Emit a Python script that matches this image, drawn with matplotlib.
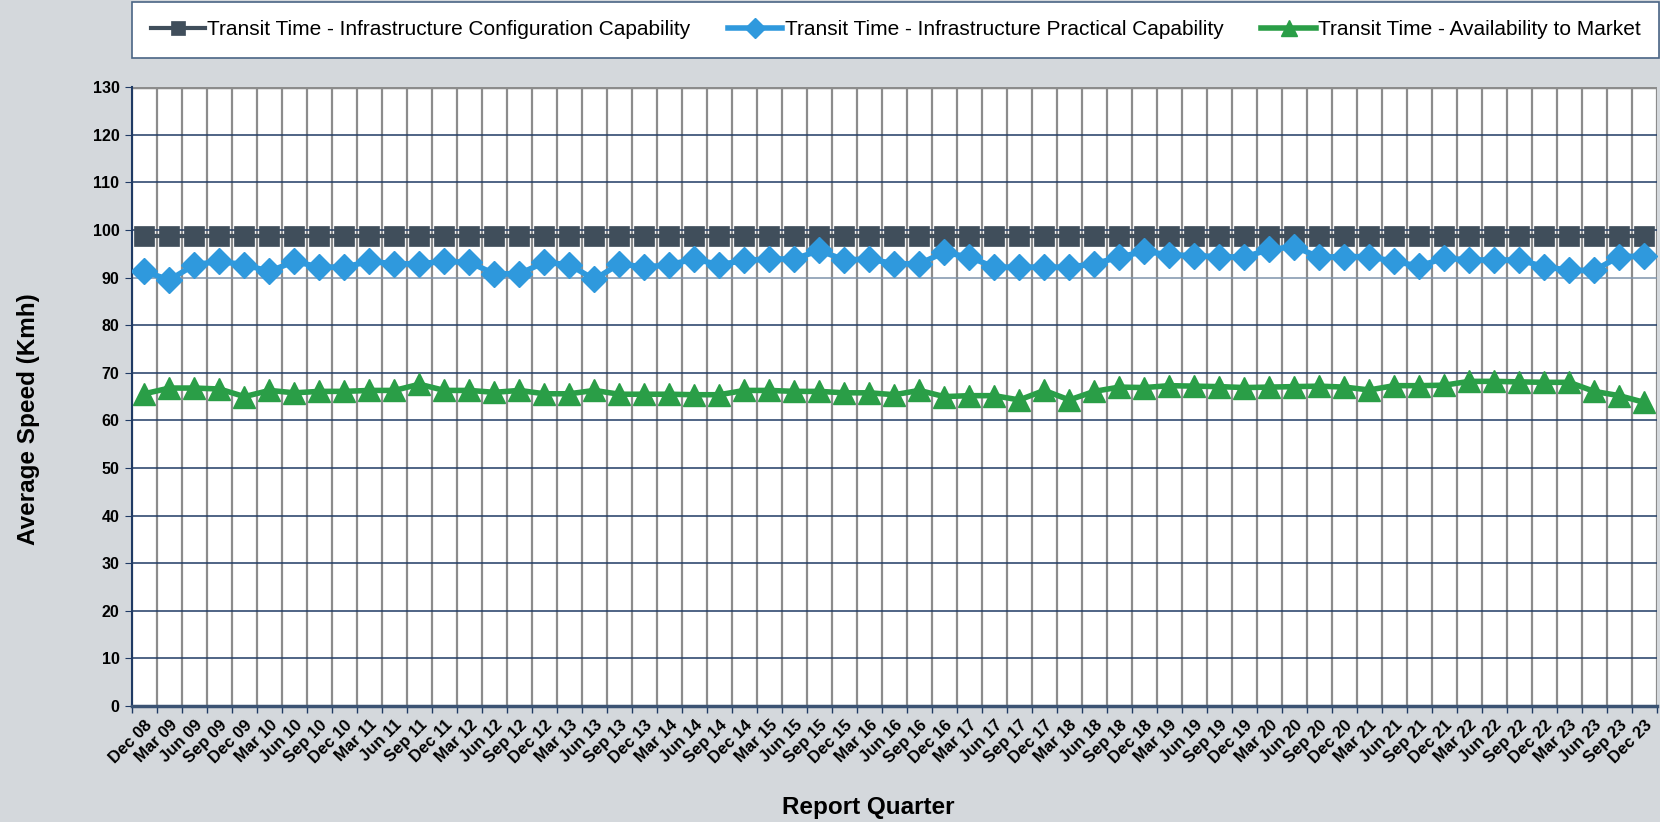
import numpy as np
import matplotlib.pyplot as plt
from matplotlib.ticker import MultipleLocator

plt.rcParams['font.family'] = ['Liberation Sans', 'DejaVu Sans']

# report quarters Dec 08 .. Dec 23
quarters = []
for yr in range(8, 24):
    for m in ["Mar", "Jun", "Sep", "Dec"]:
        quarters.append(f"{m} {yr:02d}")
quarters = quarters[3:]  # start at Dec 08

config_cap = [98.7] * 61

practical_cap = [
    91.3, 89.5, 92.7, 93.4, 92.7, 91.3, 93.4, 92.2, 92.2, 93.4,
    92.9, 92.9, 93.4, 93.2, 90.8, 90.8, 93.2, 92.7, 89.6, 92.9,
    92.2, 92.7, 93.9, 92.7, 93.6, 93.9, 93.9, 95.7, 93.7, 93.9,
    92.9, 92.9, 95.3, 94.3, 92.2, 92.2, 92.2, 92.2, 92.9, 94.3,
    95.5, 94.8, 94.6, 94.4, 94.3, 95.9, 96.5, 94.3, 94.4, 94.4,
    93.4, 92.4, 94.1, 93.7, 93.7, 93.7, 92.3, 91.5, 91.5, 94.4,
    94.5,
]

avail_market = [
    65.6, 66.8, 66.8, 66.6, 65.0, 66.3, 65.8, 66.1, 66.1, 66.3,
    66.3, 67.6, 66.3, 66.3, 65.9, 66.3, 65.6, 65.6, 66.3, 65.5,
    65.5, 65.5, 65.4, 65.4, 66.3, 66.3, 66.1, 66.1, 65.8, 65.8,
    65.4, 66.3, 65.0, 65.2, 65.2, 64.3, 66.3, 64.3, 66.1, 67.0,
    66.9, 67.3, 67.2, 67.1, 66.9, 67.0, 67.1, 67.2, 67.0, 66.4,
    67.3, 67.3, 67.4, 68.2, 68.2, 68.1, 68.0, 68.0, 66.1, 65.2,
    63.8,
]

labels = [
    "Transit Time - Infrastructure Configuration Capability",
    "Transit Time - Infrastructure Practical Capability",
    "Transit Time - Availability to Market",
]

BG = "#d4d8dc"
NAVY = "#1f3a64"

fig = plt.figure(figsize=(16.6, 8.22), dpi=100, facecolor=BG)
ax = fig.add_axes([0.0795, 0.141, 0.9185, 0.753])
ax.set_facecolor("white")

x = np.arange(len(quarters))
ax.plot(x, config_cap, color="#404e5b", lw=3, marker="s", ms=14.3,
        mec="#404e5b", mew=0.5, label=labels[0], zorder=5)
ax.plot(x, practical_cap, color="#2f99dd", lw=4, marker="D", ms=13,
        label=labels[1], zorder=6)
ax.plot(x, avail_market, color="#2a9e47", lw=4, marker="^", ms=15.5,
        label=labels[2], zorder=7)

ax.set_xlim(-0.5, len(quarters) - 0.5)
ax.set_ylim(0, 130)
ax.yaxis.set_major_locator(MultipleLocator(10))

ax.set_xticks(x)
ax.set_xticklabels(quarters, rotation=45, ha="right", rotation_mode="anchor",
                   fontsize=12, fontweight="bold")
ax.set_xticks(np.arange(-0.5, len(quarters), 1), minor=True)
ax.tick_params(axis="x", which="major", length=0, pad=8)
ax.tick_params(axis="x", which="minor", length=5, color=NAVY, width=1)
ax.tick_params(axis="y", length=5, color=NAVY, labelsize=11.5, pad=4)
for t in ax.get_yticklabels():
    t.set_fontweight("bold")

ax.grid(axis="x", which="minor", color="#8c8c8c", lw=1.6, zorder=1)
ax.grid(axis="y", which="major", color=NAVY, lw=1.1, zorder=1)
for val, gl in zip(ax.get_yticks(), ax.get_ygridlines()):
    if val == 90:
        gl.set_color("#7f93ab")
    if val == 130:
        gl.set_color("#8c8c8c")
        gl.set_linewidth(2.5)
ax.set_axisbelow(True)

for s in ["top", "right"]:
    ax.spines[s].set_visible(False)
ax.spines["left"].set_color(NAVY)
ax.spines["left"].set_linewidth(1.5)
ax.spines["bottom"].set_color("#3b5373")
ax.spines["bottom"].set_linewidth(2.5)

ax.set_ylabel("Average Speed (Kmh)", fontsize=17.5, fontweight="bold")
ax.yaxis.set_label_coords(-0.06, 0.463)
ax.set_xlabel("Report Quarter", fontsize=17.5, fontweight="bold")
ax.xaxis.set_label_coords(0.483, -0.145)

leg = fig.legend(loc="upper left", bbox_to_anchor=(0.0795, 0.928, 0.92, 0.07),
                 mode="expand", ncol=3, frameon=True, fancybox=False,
                 fontsize=15, handlelength=2.6, handletextpad=0.1,
                 markerscale=0.75, borderaxespad=0, borderpad=0.9,
                 columnspacing=1.8, framealpha=1, facecolor="white")
leg.get_frame().set_edgecolor("#4a6585")
leg.get_frame().set_linewidth(1.2)

fig.savefig("out.png", dpi=100, facecolor=BG)
